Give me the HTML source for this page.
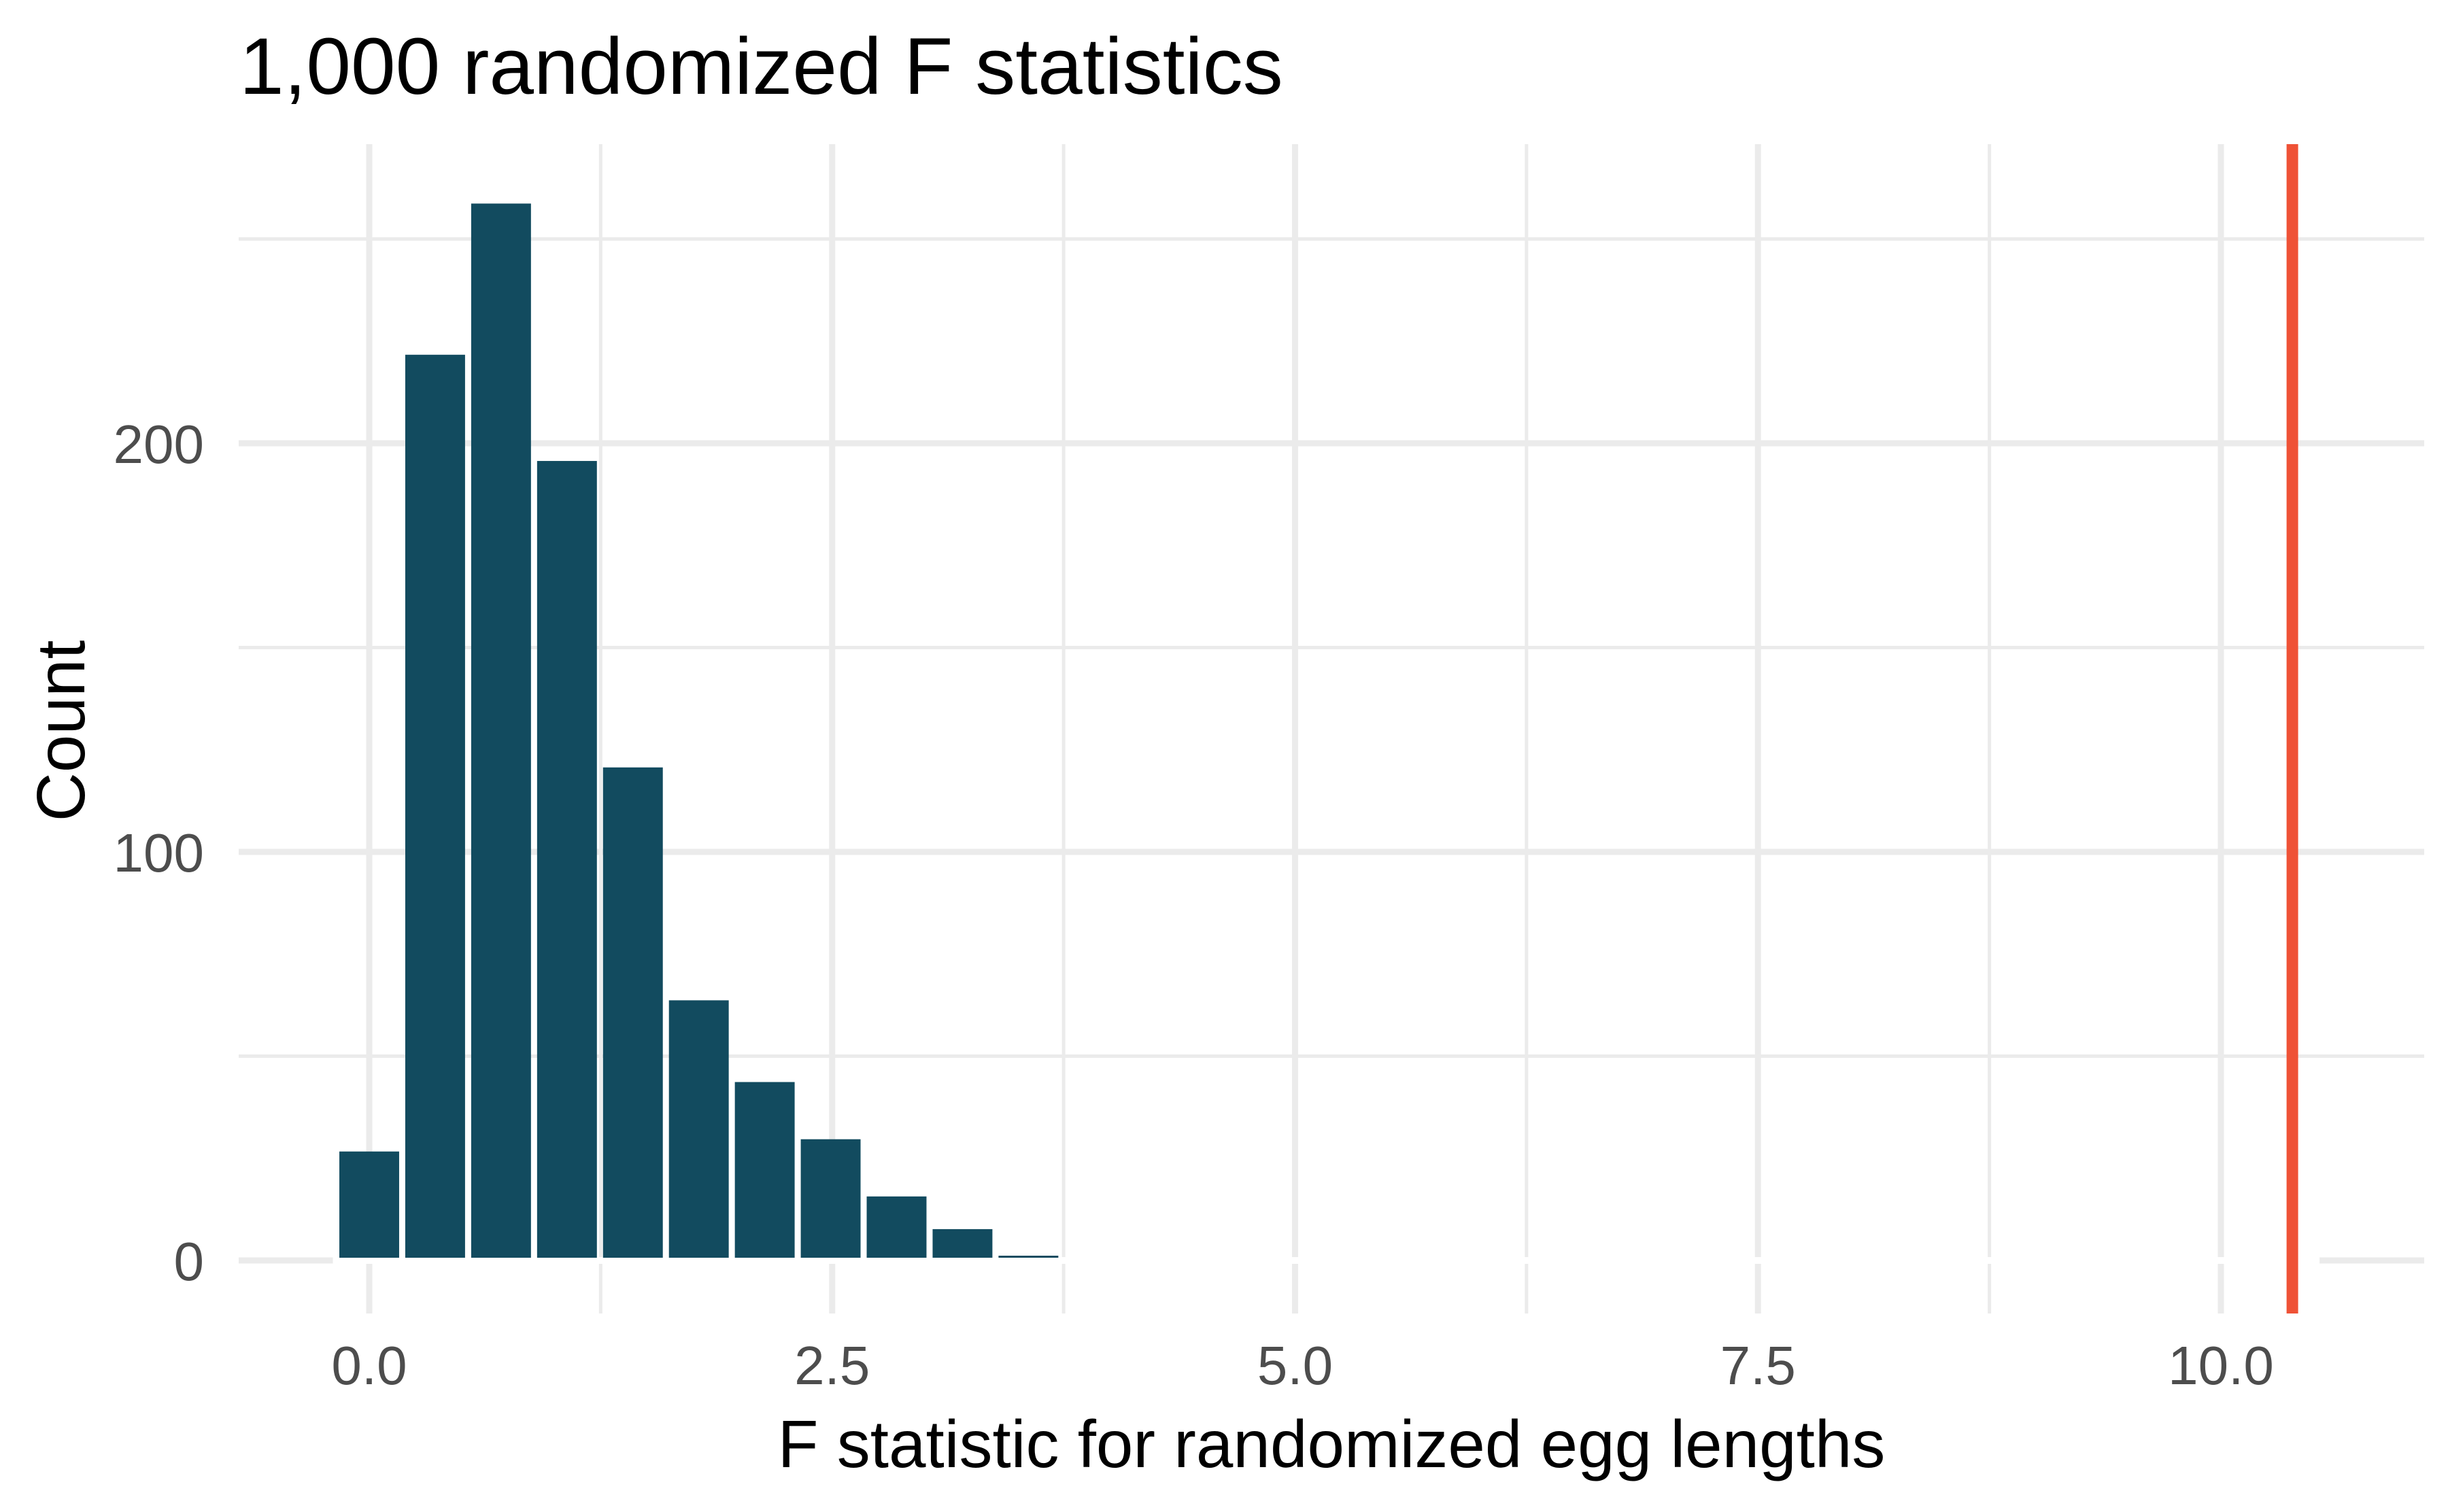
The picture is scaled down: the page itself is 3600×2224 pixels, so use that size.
<!DOCTYPE html>
<html><head><meta charset="utf-8"><style>
html,body{margin:0;padding:0;background:#fff;}
svg{display:block;font-family:"Liberation Sans",sans-serif;}
</style></head><body>
<svg id="chart" width="3600" height="2224" viewBox="0 0 3600 2224">
<rect x="0" y="0" width="3600" height="2224" fill="#fff"/>
<g id="grid"></g>
<g id="bars"></g>
<g id="ref"></g>
<g id="ticks"></g>
<text x="352" y="138" font-size="118" fill="#000">1,000 randomized F statistics</text>
<text x="1958" y="2158" font-size="98" fill="#000" text-anchor="middle">F statistic for randomized egg lengths</text>
<text transform="translate(124,1075) rotate(-90)" font-size="100" fill="#000" text-anchor="middle">Count</text>
</svg>
<script>
const binCenters = [0, 0.356, 0.712, 1.068, 1.424, 1.78, 2.136, 2.492, 2.848, 3.204, 3.56, 3.916, 4.272];
const counts = [27, 222, 259, 196, 121, 64, 44, 30, 16, 8, 1, 0, 0];
const binWidth = 0.356;
const observedF = 10.386;
const xTicks = [0, 2.5, 5, 7.5, 10];
const xTickLabels = ["0.0", "2.5", "5.0", "7.5", "10.0"];
const xMinor = [1.25, 3.75, 6.25, 8.75];
const yTicks = [0, 100, 200];
const yTickLabels = ["0", "100", "200"];
const yMinor = [50, 150, 250];

const X0 = 543, XU = 272.3, Y0 = 1854, YU = 6.01;
const PL = 351, PR = 3565, PT = 212, PB = 1932;
function sx(v){ return X0 + v * XU; }
function sy(v){ return Y0 - v * YU; }
const NS = "http://www.w3.org/2000/svg";
function mk(tag, attrs, parent){
  const e = document.createElementNS(NS, tag);
  for (const k in attrs) e.setAttribute(k, attrs[k]);
  parent.appendChild(e);
  return e;
}
const grid = document.getElementById('grid');
yMinor.forEach(v => {
  const l = mk('line', {x1:PL, x2:PR, y1:sy(v), y2:sy(v), stroke:'#ebebeb', 'stroke-width':5}, grid);
  
  
});
xMinor.forEach(v => {
  const l = mk('line', {x1:sx(v), x2:sx(v), y1:PT, y2:PB, stroke:'#ebebeb', 'stroke-width':5}, grid);
  
  
});
yTicks.forEach(v => {
  const l = mk('line', {x1:PL, x2:PR, y1:sy(v), y2:sy(v), stroke:'#ebebeb', 'stroke-width':9}, grid);
  
  
});
xTicks.forEach(v => {
  const l = mk('line', {x1:sx(v), x2:sx(v), y1:PT, y2:PB, stroke:'#ebebeb', 'stroke-width':9}, grid);
  
  
});
const bars = document.getElementById('bars');
const base = mk('line', {x1:sx(binCenters[0]-binWidth/2)-5, x2:sx(observedF)+40, y1:Y0, y2:Y0, stroke:'#fff', 'stroke-width':10}, bars);


binCenters.forEach((c, i) => {
  if (counts[i] <= 0) return;
  const x1 = sx(c - binWidth/2) + 4.5, x2 = sx(c + binWidth/2) - 4.5;
  const yt = sy(counts[i]) + 2;
  const yb = Y0 - 4;
  const r = mk('rect', {x:x1, y:Math.min(yt, yb-3), width:x2-x1, height:Math.max(3, yb-yt), fill:'#124b5f'}, bars);
  
  
});
const ref = document.getElementById('ref');
const rl = mk('line', {x1:sx(observedF), x2:sx(observedF), y1:PT, y2:PB, stroke:'#ef5236', 'stroke-width':17}, ref);


const ticks = document.getElementById('ticks');
xTicks.forEach((v, i) => {
  const t = mk('text', {x:sx(v), y:2036, 'font-size':80, fill:'#4d4d4d', 'text-anchor':'middle'}, ticks);
  t.textContent = xTickLabels[i];
  
  
});
yTicks.forEach((v, i) => {
  const t = mk('text', {x:300, y:sy(v)+29, 'font-size':80, fill:'#4d4d4d', 'text-anchor':'end'}, ticks);
  t.textContent = yTickLabels[i];
  
  
});
</script>
</body></html>
